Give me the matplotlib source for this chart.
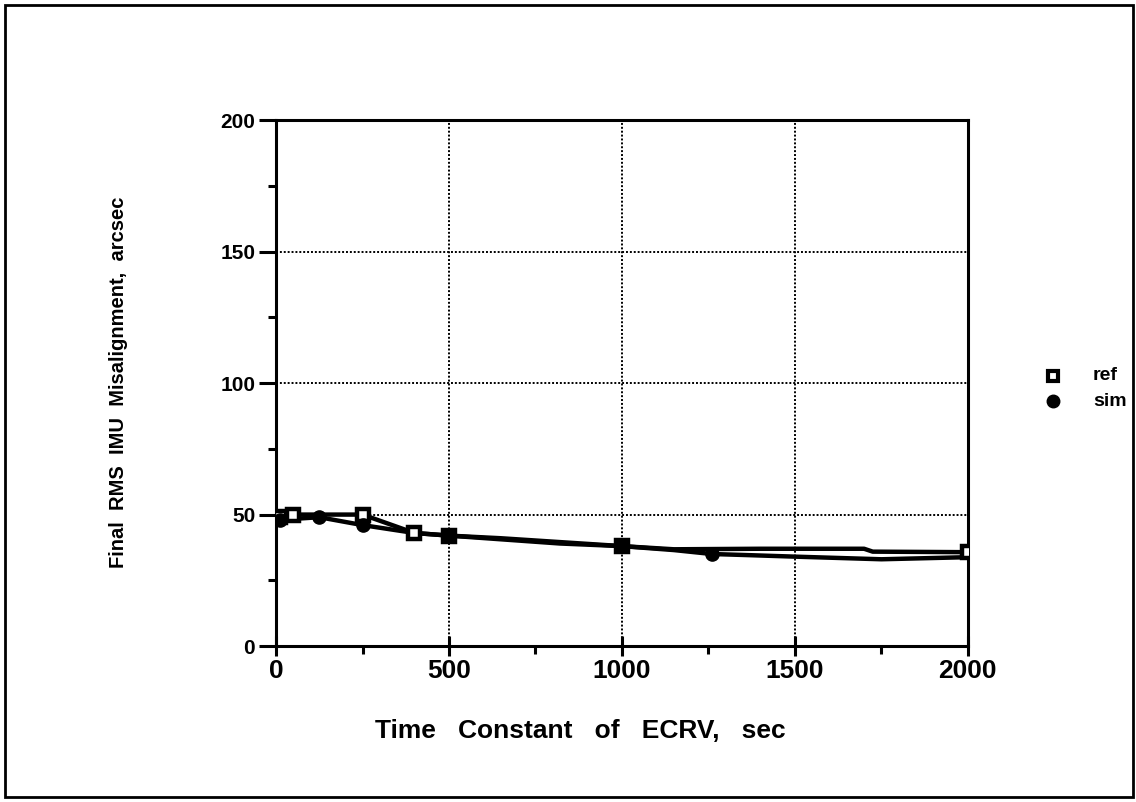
import matplotlib
matplotlib.use("Agg")
import matplotlib.pyplot as plt
from matplotlib.patches import Rectangle

plt.rcParams['font.family'] = ['Liberation Sans', 'DejaVu Sans']
plt.rcParams['font.weight'] = 'bold'

# marked data points
ref_x = [10, 50, 250, 400, 500, 1000, 2000]
ref_y = [49, 50, 50, 43, 42, 38, 35.7]
sim_x = [10, 125, 250, 500, 1000, 1260]
sim_y = [48, 49, 46, 42, 38, 35]

# traced line path between the marks
ref_line_x = [10, 50, 250, 400, 500, 650, 1000, 1150, 1400, 1700, 1725, 2000]
ref_line_y = [49, 50, 50, 43, 42, 41, 38, 36.8, 37, 37, 35.9, 35.7]
sim_line_x = [10, 125, 250, 400, 500, 820, 1000, 1150, 1260, 1360, 1500, 1750, 2000]
sim_line_y = [48, 49, 46, 43, 42, 39, 38, 36.5, 35, 34.6, 34, 33, 33.8]

fig = plt.figure(figsize=(11.36, 8.02), dpi=100)
ax = fig.add_axes([0.243, 0.1945, 0.609, 0.6555])

ax.plot(ref_line_x, ref_line_y, color='black', lw=3.2, zorder=3)
ax.plot(sim_line_x, sim_line_y, color='black', lw=3.2, zorder=3)
ax.plot(ref_x, ref_y, ls='none', marker='s', ms=9, mfc='white', mec='black', mew=3.2, zorder=4)
ax.plot(sim_x, sim_y, ls='none', marker='o', ms=9.5, color='black', zorder=4)

ax.set_xlim(0, 2000)
ax.set_ylim(0, 200)
ax.set_xticks([0, 500, 1000, 1500, 2000])
ax.set_xticks([250, 750, 1250, 1750], minor=True)
ax.set_yticks([0, 50, 100, 150, 200])
ax.set_yticks([25, 75, 125, 175], minor=True)
ax.grid(True, which='major', color='black', ls=(0, (1, 1)), lw=1.4)

for s in ax.spines.values():
    s.set_linewidth(2.2)
ax.tick_params(axis='y', which='major', direction='out', length=12, width=2.2, labelsize=15, pad=3)
ax.tick_params(axis='y', which='minor', direction='out', length=6, width=2.2)
ax.tick_params(axis='x', which='major', direction='inout', length=14, width=2.2, labelsize=19, pad=2)
ax.tick_params(axis='x', which='minor', direction='out', length=6, width=2.2)

ax.set_xlabel('Time   Constant   of   ECRV,   sec', fontsize=19, fontweight='bold', va='center')
ax.set_ylabel('Final  RMS  IMU  Misalignment,  arcsec', fontsize=14.5, fontweight='bold', va='center')
ax.xaxis.set_label_coords((580 - 276) / 692, (646 - 731) / 526)
ax.yaxis.set_label_coords((118 - 276) / 692, (646 - 382) / 526)

# legend outside the plot on the right
fig.lines.append(plt.Line2D([1053 / 1136], [1 - 376 / 802], transform=fig.transFigure,
                            marker='s', ms=7.5, mfc='white', mec='black', mew=3, ls='none'))
fig.lines.append(plt.Line2D([1053 / 1136], [1 - 401 / 802], transform=fig.transFigure,
                            marker='o', ms=9, color='black', ls='none'))
fig.text(1093 / 1136, 1 - 376 / 802, 'ref', fontsize=14, va='center')
fig.text(1093 / 1136, 1 - 401 / 802, 'sim', fontsize=14, va='center')

# outer border
fig.patches.append(Rectangle((5 / 1136, 5 / 802), 1128 / 1136, 792 / 802, transform=fig.transFigure,
                             fill=False, lw=2, edgecolor='black'))

fig.savefig('out.png', dpi=100)
